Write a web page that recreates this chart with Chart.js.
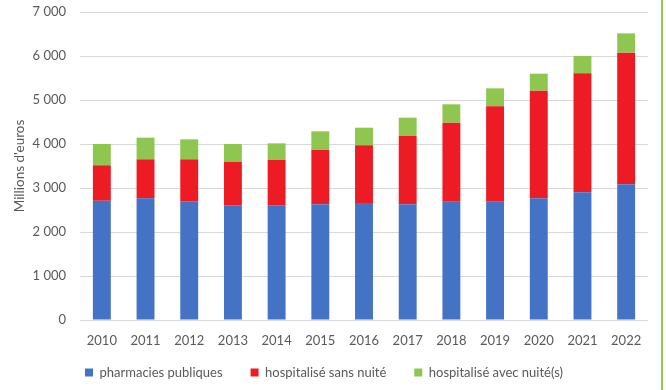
<!DOCTYPE html>
<html>
<head>
<meta charset="utf-8">
<script src="https://cdn.jsdelivr.net/npm/chart.js@4"></script>
<style>
  html, body { margin: 0; padding: 0; background: #fff; }
  #wrap { position: relative; width: 666px; height: 390px; }
  #edge { position: absolute; left: 661px; top: 0; width: 2px; height: 390px; background: #92c85a; }
</style>
</head>
<body>
<div id="wrap">
  <canvas id="chart" width="666" height="390"></canvas>
  <div id="edge"></div>
</div>
<script>
// data (millions d'euros)
const years = ['2010','2011','2012','2013','2014','2015','2016','2017','2018','2019','2020','2021','2022'];
const pharmacies = [2710, 2765, 2697, 2606, 2606, 2629, 2659, 2629, 2689, 2689, 2765, 2901, 3083];
const sansNuite  = [ 806,  887,  955,  985, 1030, 1242, 1311, 1553, 1796, 2167, 2447, 2705, 2993];
const avecNuite  = [ 484,  492,  454,  409,  379,  417,  401,  416,  417,  409,  386,  394,  439];
const seriesNames = ['pharmacies publiques', 'hospitalisé sans nuité', 'hospitalisé avec nuité(s)'];

const FONT = 'Lato, "Open Sans", sans-serif';
const TXT = '#595959';

function fmt(v){
  // french thousands separator
  return String(v).replace(/\B(?=(\d{3})+(?!\d))/g, ' ');
}

// the x axis box is kept short so the legend sits low; give its labels room to draw
const xLabelRoom = {
  id: 'xLabelRoom',
  afterLayout(chart){
    const x = chart.scales.x;
    x.bottom = x.top + 32;
  }
};

const ctx = document.getElementById('chart').getContext('2d');
new Chart(ctx, {
  type: 'bar',
  data: {
    labels: years,
    datasets: [
      { label: seriesNames[0], data: pharmacies, backgroundColor: '#4472c4' },
      { label: seriesNames[1], data: sansNuite,  backgroundColor: '#ed1c24' },
      { label: seriesNames[2], data: avecNuite,  backgroundColor: '#8fc650' }
    ]
  },
  plugins: [xLabelRoom],
  options: {
    responsive: false,
    animation: false,
    datasets: { bar: { barPercentage: 0.41, categoryPercentage: 1 } },
    layout: { padding: { left: 0, right: 18, top: 12, bottom: 1 } },
    plugins: {
      legend: {
        position: 'bottom',
        labels: {
          color: TXT,
          font: { family: FONT, size: 13 },
          boxWidth: 8, boxHeight: 8,
          padding: 28
        }
      },
      tooltip: { enabled: false }
    },
    scales: {
      x: {
        stacked: true,
        afterFit: s => { s.height = 18; },
        grid: { display: false },
        border: { display: false },
        ticks: { color: TXT, font: { family: FONT, size: 13 }, padding: 5 }
      },
      y: {
        stacked: true,
        min: 0, max: 7000,
        afterFit: s => { s.width = 80; s.paddingTop = 0; s.paddingBottom = 0; },
        grid: { color: '#d9d9d9', drawTicks: false },
        border: { display: false },
        ticks: {
          stepSize: 1000, color: TXT, padding: 14,
          font: { family: FONT, size: 13 },
          callback: v => fmt(v)
        },
        title: {
          display: true, text: "Millions d'euros", color: TXT,
          font: { family: FONT, size: 13.5 }, padding: { top: 12, bottom: 0 }
        }
      }
    }
  }
});
</script>
</body>
</html>
